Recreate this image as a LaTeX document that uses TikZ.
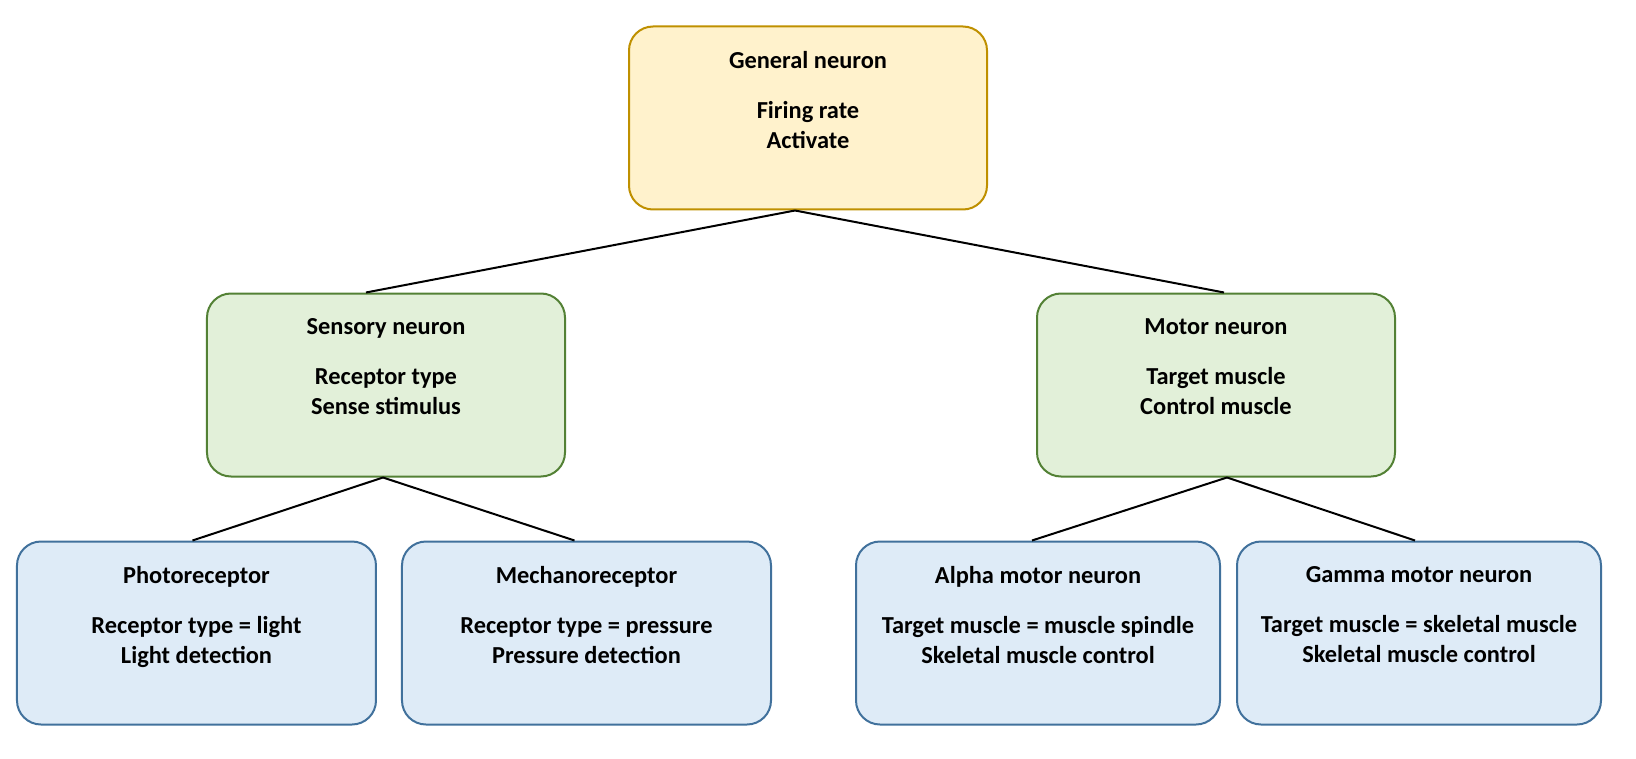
\documentclass[tikz,border=0pt]{standalone}
\usepackage{fontspec}
\setmainfont{Carlito}
\usetikzlibrary{positioning}

\definecolor{goldline}{HTML}{BF9000}
\definecolor{goldfill}{HTML}{FFF2CC}
\definecolor{greenline}{HTML}{538135}
\definecolor{greenfill}{HTML}{E2F0D9}
\definecolor{blueline}{HTML}{41719C}
\definecolor{bluefill}{HTML}{DEEBF7}

\begin{document}
\begin{tikzpicture}[
cellbox/.style={rectangle, rounded corners=12pt, line width=1pt, inner xsep=0pt, inner ysep=12.5pt,
  font=\bfseries\fontsize{12.2}{15}\selectfont,
  execute at begin node={\begin{minipage}[t][66.5pt][t]{#1}\centering},
  execute at end node={\end{minipage}}},
cellbox/.default=179pt,
topnode/.style={cellbox, draw=goldline, fill=goldfill},
midnode/.style={cellbox, draw=greenline, fill=greenfill},
leafnode/.style={cellbox=#1, draw=blueline, fill=bluefill},
leafnode/.default=182pt,
]
\useasboundingbox (-404pt,-320.5pt) rectangle (414pt,59pt);

%Nodes
\node[topnode]  (general)                                   {General neuron\\[10pt]Firing rate\\Activate};
\node[midnode]  (sensory) [below left=41pt and 31pt of general]  {Sensory neuron\\[10pt]Receptor type\\Sense stimulus};
\node[midnode]  (motor)   [below right=41pt and 24pt of general] {Motor neuron\\[10pt]Target muscle\\Control muscle};
\node[leafnode=179.5pt] (photo)  [below=31.5pt of sensory, xshift=-94.75pt] {Photoreceptor\\[10pt]Receptor type = light\\Light detection};
\node[leafnode=184.5pt] (mechano) [right=12pt of photo]     {Mechanoreceptor\\[10pt]Receptor type = pressure\\Pressure detection};
\node[leafnode] (alpha)   [right=41.5pt of mechano]         {Alpha motor neuron\\[10pt]Target muscle = muscle spindle\\Skeletal muscle control};
\node[leafnode] (gamma)   [right=7.5pt of alpha]            {Gamma motor neuron\\[10pt]Target muscle = skeletal muscle\\Skeletal muscle control};

%Lines
\draw[line width=1pt] ([xshift=-6.5pt]general.south) -- ([xshift=-10pt]sensory.north);
\draw[line width=1pt] ([xshift=-6.5pt]general.south) -- ([xshift=4pt]motor.north);
\draw[line width=1pt] ([xshift=-1.5pt]sensory.south) -- ([xshift=-2pt]photo.north);
\draw[line width=1pt] ([xshift=-1.5pt]sensory.south) -- ([xshift=-6pt]mechano.north);
\draw[line width=1pt] ([xshift=5.5pt]motor.south) -- ([xshift=-3pt]alpha.north);
\draw[line width=1pt] ([xshift=5.5pt]motor.south) -- ([xshift=-2pt]gamma.north);
\end{tikzpicture}
\end{document}
